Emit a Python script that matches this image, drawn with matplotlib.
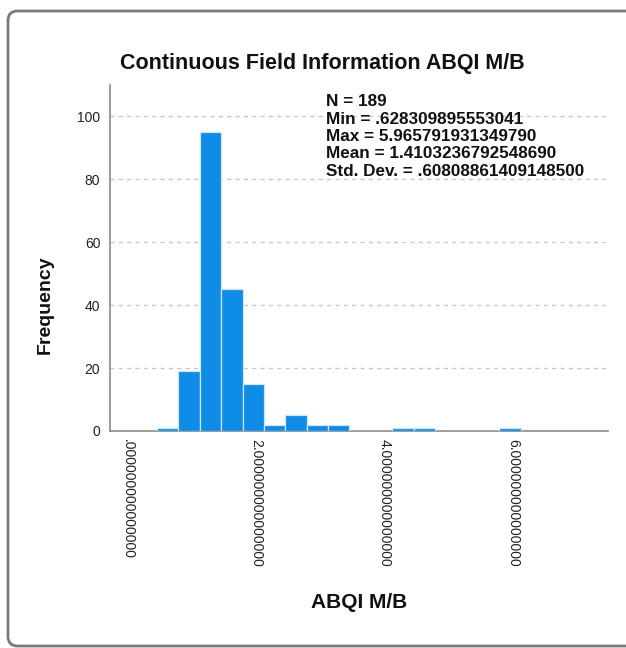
import matplotlib
matplotlib.use("Agg")
import matplotlib.pyplot as plt
from matplotlib.patches import FancyBboxPatch
import numpy as np

plt.rcParams['font.family'] = ['Liberation Sans', 'DejaVu Sans']

# ---- data ----
bin_start = 0.46
bin_width = 0.333
counts = [1, 19, 95, 45, 15, 2, 5, 2, 2, 0, 0, 1, 1, 0, 0, 0, 1]
x_ticks = [0, 2, 4, 6]
x_tick_labels = [".000000000000000", "2.000000000000000",
                 "4.000000000000000", "6.000000000000000"]
y_ticks = [0, 20, 40, 60, 80, 100]
title = "Continuous Field Information ABQI M/B"
x_label = "ABQI M/B"
y_label = "Frequency"
stats_lines = ["N = 189",
               "Min = .628309895553041",
               "Max = 5.965791931349790",
               "Mean = 1.4103236792548690",
               "Std. Dev. = .60808861409148500"]

W, H = 626, 648
fig = plt.figure(figsize=(W / 100, H / 100), dpi=100)
fig.patch.set_facecolor('white')

# outer rounded frame
frame = FancyBboxPatch((8 / W, 2 / H), (640 - 8) / W, (637 - 2) / H,
                       boxstyle="round,pad=0,rounding_size=0.015",
                       transform=fig.transFigure, facecolor='white',
                       edgecolor='#7a7a7a', linewidth=2, zorder=-5)
fig.patches.append(frame)

left, right, top, bottom = 110, 608, 85, 431
ax = fig.add_axes([left / W, 1 - bottom / H, (right - left) / W, (bottom - top) / H])
ax.set_zorder(2)
ax.set_facecolor('none')

edges = bin_start + bin_width * np.arange(len(counts) + 1)
lefts = edges[:-1]
ax.hist(lefts, bins=edges, weights=counts, color='#0e8ce6',
        edgecolor='#cfe5f8', linewidth=0.9, zorder=3)

ax.set_xlim(-0.27, 7.48)
ax.set_ylim(0, 110)
ax.set_yticks(y_ticks)
ax.set_yticklabels([str(v) for v in y_ticks])
ax.set_xticks(x_ticks)
ax.set_xticklabels(x_tick_labels, rotation=270, va='top', ha='center')
ax.tick_params(axis='both', length=0, labelsize=10, colors='#222222')
ax.tick_params(axis='x', pad=6)
ax.tick_params(axis='y', pad=7)

for v in y_ticks[1:]:
    ax.axhline(v, color='#c8c8c8', linestyle=(0, (3, 3)), linewidth=1, zorder=1)

for s in ['top', 'right']:
    ax.spines[s].set_visible(False)
for s in ['left', 'bottom']:
    ax.spines[s].set_color('#8a8a8a')
    ax.spines[s].set_linewidth(1.2)

fig.text(322 / W, 1 - 64 / H, title, ha='center', va='center',
         fontsize=15.5, fontweight='bold', color='#111111')
fig.text(359 / W, 1 - 603 / H, x_label, ha='center', va='center',
         fontsize=15, fontweight='bold', color='#111111')
fig.text(45 / W, 1 - 305 / H, y_label, ha='center', va='center', rotation=90,
         fontsize=14, fontweight='bold', color='#111111')

for i, line in enumerate(stats_lines):
    fig.text(326 / W, 1 - (101.5 + i * 17.5) / H, line, ha='left', va='center',
             fontsize=12.3, fontweight='bold', color='#111111')

fig.savefig('out.png', dpi=100)
